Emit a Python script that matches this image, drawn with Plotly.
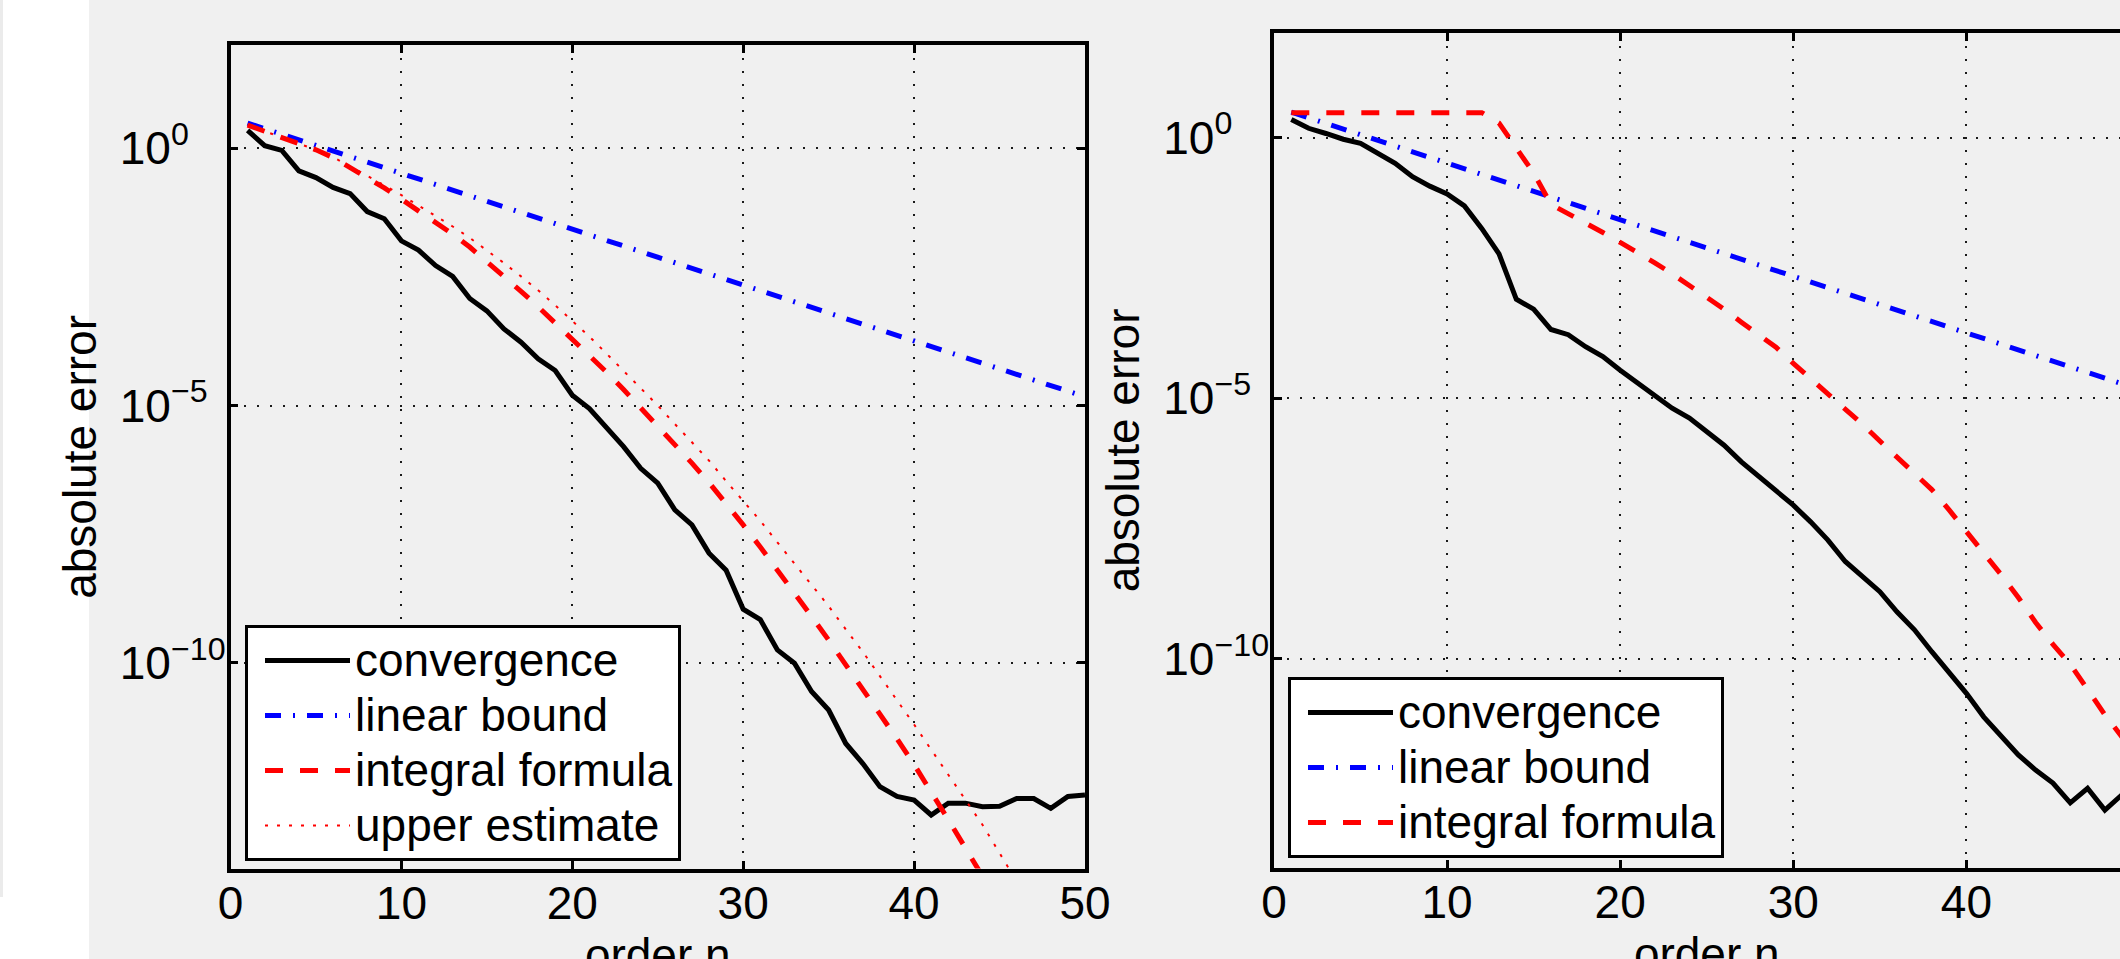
import plotly.graph_objects as go

# ---------------- data (exponents of 10) ----------------
n_all = list(range(1, 51))

# left panel
conv_left_exp = [0.35, 0.05, -0.04, -0.44, -0.57, -0.76, -0.88, -1.23, -1.37, -1.80,
                 -1.98, -2.28, -2.49, -2.92, -3.16, -3.51, -3.77, -4.09, -4.32, -4.80,
                 -5.06, -5.42, -5.80, -6.22, -6.51, -7.03, -7.32, -7.87, -8.20, -8.96,
                 -9.16, -9.75, -10.01, -10.56, -10.92, -11.57, -11.96, -12.41, -12.60, -12.67,
                 -12.96, -12.73, -12.73, -12.80, -12.79, -12.64, -12.64, -12.83, -12.60, -12.57]

n_linear = [1, 10, 20, 30, 40, 50]
linear_exp = [0.49, -0.49, -1.57, -2.66, -3.74, -4.83]

n_integral_left = list(range(1, 45))
integral_left_exp = [0.45, 0.33, 0.21, 0.09, -0.03, -0.18, -0.37, -0.56, -0.77, -0.99,
                     -1.21, -1.43, -1.67, -1.92, -2.20, -2.49, -2.78, -3.08, -3.39, -3.70,
                     -4.02, -4.35, -4.69, -5.04, -5.39, -5.75, -6.12, -6.50, -6.90, -7.32,
                     -7.75, -8.19, -8.64, -9.10, -9.56, -10.03, -10.51, -10.99, -11.48, -11.98,
                     -12.50, -13.05, -13.60, -14.15]

n_upper_left = list(range(1, 47))
upper_left_exp = [0.45, 0.33, 0.21, 0.09, -0.03, -0.17, -0.35, -0.53, -0.72, -0.91,
                  -1.11, -1.31, -1.52, -1.74, -1.98, -2.23, -2.49, -2.76, -3.05, -3.35,
                  -3.66, -3.99, -4.32, -4.66, -5.00, -5.36, -5.71, -6.07, -6.47, -6.85,
                  -7.24, -7.66, -8.07, -8.47, -8.90, -9.35, -9.79, -10.26, -10.72, -11.20,
                  -11.69, -12.18, -12.65, -13.15, -13.70, -14.25]

# right panel
conv_right_exp = [0.35, 0.18, 0.08, -0.03, -0.11, -0.29, -0.49, -0.75, -0.93, -1.08,
                  -1.31, -1.74, -2.23, -3.10, -3.29, -3.68, -3.78, -4.01, -4.20, -4.46,
                  -4.71, -4.94, -5.19, -5.38, -5.64, -5.90, -6.22, -6.50, -6.76, -7.05,
                  -7.37, -7.72, -8.13, -8.42, -8.71, -9.10, -9.44, -9.86, -10.27, -10.66,
                  -11.11, -11.49, -11.84, -12.13, -12.38, -12.76, -12.48, -12.90, -12.60, -12.50]

integral_right_exp = [0.48, 0.48, 0.48, 0.48, 0.48, 0.48, 0.48, 0.48, 0.48, 0.48,
                      0.48, 0.48, 0.28, -0.18, -0.68, -1.28, -1.46, -1.62, -1.82, -2.01,
                      -2.20, -2.40, -2.61, -2.84, -3.05, -3.29, -3.54, -3.78, -4.02, -4.33,
                      -4.62, -4.90, -5.19, -5.50, -5.82, -6.12, -6.43, -6.75, -7.14, -7.57,
                      -7.97, -8.38, -8.82, -9.30, -9.72, -10.10, -10.58, -11.07, -11.50, -11.95]

x_tick_vals = [0, 10, 20, 30, 40, 50]
x_tick_text = ["0", "10", "20", "30", "40", "50"]
y_tick_vals = [1e0, 1e-5, 1e-10]
y_tick_text = ["10<sup>0<span style='color:rgba(0,0,0,0)'>\u22121</span></sup>",
               "10<sup>\u22125<span style='color:rgba(0,0,0,0)'>0</span></sup>",
               "10<sup>\u221210</sup>"]

names = ["convergence", "linear bound", "integral formula", "upper estimate"]

# ---------------- figure ----------------
# The figure is a little larger than the 2120x959 window (the reference is cropped
# on the right and bottom); the page hides the overflow.
W, H = 2160, 1000
FONT = "Liberation Sans, Arial, Helvetica, sans-serif"
FS = 46

fig = go.Figure()

def legend_label(s):
    return "<span style='font-size:46px'>" + s + "</span>"

def add(xs, exps, name, color, width, dash, xa, ya, legend):
    fig.add_trace(go.Scatter(
        x=xs, y=[10 ** e for e in exps], mode="lines", name=legend_label(name),
        line=dict(color=color, width=width, dash=dash),
        xaxis=xa, yaxis=ya, legend=legend, hoverinfo="skip"))

BLACK, BLUE, RED = "#000000", "#0000ff", "#ff0000"
DASHDOT = "16px,12px,2px,12px"
DASH = "18px,17px"
DOT = "3px,9px"
LW = 5

add(n_all, conv_left_exp, names[0], BLACK, LW, "solid", "x", "y", "legend")
add(n_linear, linear_exp, names[1], BLUE, LW, DASHDOT, "x", "y", "legend")
add(n_integral_left, integral_left_exp, names[2], RED, LW, DASH, "x", "y", "legend")
add(n_upper_left, upper_left_exp, names[3], RED, 2, DOT, "x", "y", "legend")

add(n_all, conv_right_exp, names[0], BLACK, LW, "solid", "x2", "y2", "legend2")
add(n_linear, linear_exp, names[1], BLUE, LW, DASHDOT, "x2", "y2", "legend2")
add(n_all, integral_right_exp, names[2], RED, LW, DASH, "x2", "y2", "legend2")

axis_common = dict(
    showline=True, linecolor="black", linewidth=3.5, mirror="ticks",
    ticks="inside", ticklen=8, tickwidth=2.5, tickcolor="black",
    showgrid=True, gridcolor="#1a1a1a", gridwidth=2, griddash="2px,11px",
    zeroline=False, automargin=False,
    tickfont=dict(family=FONT, size=FS, color="black"),
)

def xax(dom, anchor):
    return dict(axis_common, domain=dom, anchor=anchor, range=[0, 50],
                tickmode="array", tickvals=x_tick_vals, ticktext=x_tick_text,
                ticklabelstandoff=-8,
                title=dict(text="order n", font=dict(family=FONT, size=FS, color="black"),
                           standoff=0))

def yax(dom, anchor):
    return dict(axis_common, domain=dom, anchor=anchor, type="log", range=[-14, 2],
                tickmode="array", tickvals=y_tick_vals, ticktext=y_tick_text,
                ticklabelstandoff=-8,
                title=dict(text="absolute error", font=dict(family=FONT, size=FS, color="black"),
                           standoff=10))

legend_common = dict(xanchor="left", yanchor="top", bgcolor="white",
                     bordercolor="black", borderwidth=3, itemwidth=85, indentation=12,
                     font=dict(family=FONT, size=40, color="black"),
                     traceorder="normal")

fig.update_layout(
    width=W, height=H, autosize=False,
    margin=dict(l=0, r=0, t=0, b=0, pad=0),
    paper_bgcolor="#f0f0f0", plot_bgcolor="#f0f0f0",
    font=dict(family=FONT, size=FS, color="black"),
    xaxis=xax([230.5 / W, 1085 / W], "y"),
    yaxis=yax([1 - 868.5 / H, 1 - 45.4 / H], "x"),
    xaxis2=xax([1274 / W, 2139.5 / W], "y2"),
    yaxis2=yax([1 - 867.5 / H, 1 - 33.4 / H], "x2"),
    legend=dict(legend_common, x=245 / W, y=1 - 625 / H),
    legend2=dict(legend_common, x=1288 / W, y=1 - 677 / H),
    shapes=[
        dict(type="rect", xref="paper", yref="paper", x0=0, x1=89 / W, y0=0, y1=1,
             fillcolor="white", line=dict(width=0), layer="below"),
        dict(type="rect", xref="paper", yref="paper", x0=0, x1=3 / W, y0=1 - 897 / H, y1=1,
             fillcolor="#ebebeb", line=dict(width=0), layer="below"),
    ],
)

fig.write_html(
    "out.html",
    config={"displayModeBar": False, "responsive": False},
    post_script=["document.documentElement.style.overflow='hidden';"
                 "document.body.style.overflow='hidden';document.body.style.margin='0';"],
)
